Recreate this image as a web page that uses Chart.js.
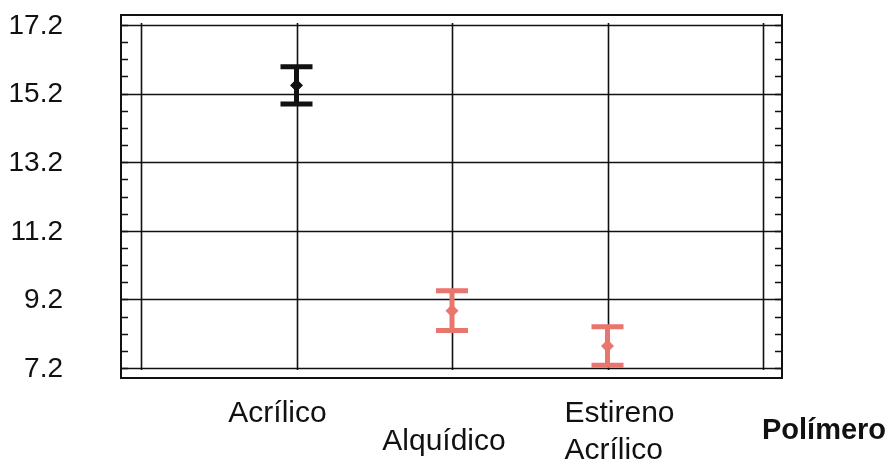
<!DOCTYPE html>
<html>
<head>
<meta charset="utf-8">
<script src="https://cdn.jsdelivr.net/npm/chart.js@4/dist/chart.umd.min.js"></script>
<style>
  html, body { margin: 0; padding: 0; background: #fff; }
  #wrap { width: 896px; height: 467px; }
</style>
</head>
<body>
<div id="wrap"><canvas id="c" width="896" height="467"></canvas></div>
<script>
// Polymer categories and measured values (mean ± error)
const categories = ['Acrílico', 'Alquídico', 'Estireno\nAcrílico'];
const means = [15.44, 8.87, 7.84];
const errors = [0.54, 0.58, 0.56];
const yTicks = [7.2, 9.2, 11.2, 13.2, 15.2, 17.2];
const axisTitle = 'Polímero';

const barColors = ['#111111', '#e8766c', '#e8766c'];

const points = categories.map((c, i) => ({ x: i + 1, y: means[i] }));

const drawPlugin = {
  id: 'frameAndBars',
  beforeDatasetsDraw(chart) {
    const ctx = chart.ctx;
    const xs = chart.scales.x, ys = chart.scales.y;
    const area = chart.chartArea;
    const frame = { l: 121, r: 782, t: 15, b: 378 };
    ctx.save();

    // outer frame
    ctx.strokeStyle = '#111';
    ctx.lineWidth = 2;
    ctx.strokeRect(frame.l, frame.t, frame.r - frame.l, frame.b - frame.t);

    // horizontal grid
    ctx.lineWidth = 1.6;
    yTicks.forEach(v => {
      const y = Math.round(ys.getPixelForValue(v)) + 0.5;
      ctx.beginPath();
      ctx.moveTo(frame.l, y);
      ctx.lineTo(frame.r, y);
      ctx.stroke();
    });

    // vertical grid at every category boundary/center
    for (let k = 0; k <= 4; k++) {
      const x = Math.round(xs.getPixelForValue(k)) + 0.5;
      ctx.beginPath();
      ctx.moveTo(x, area.top - 2);
      ctx.lineTo(x, area.bottom + 2);
      ctx.stroke();
    }

    // minor ticks on left and right frame edges
    ctx.lineWidth = 1.5;
    for (let v = yTicks[0]; v <= yTicks[yTicks.length - 1] + 1e-6; v += 0.5) {
      const y = Math.round(ys.getPixelForValue(v)) + 0.5;
      ctx.beginPath();
      ctx.moveTo(frame.l, y); ctx.lineTo(frame.l + 7, y);
      ctx.moveTo(frame.r, y); ctx.lineTo(frame.r - 7, y);
      ctx.stroke();
    }

    // y tick labels
    ctx.fillStyle = '#111';
    ctx.font = '28px "Liberation Sans", Arial, sans-serif';
    ctx.textAlign = 'right';
    ctx.textBaseline = 'middle';
    yTicks.forEach(v => {
      ctx.fillText(v.toFixed(1), 63, ys.getPixelForValue(v) + 1);
    });

    // category labels, staggered below the plot
    ctx.font = '30px "Liberation Sans", Arial, sans-serif';
    ctx.textBaseline = 'alphabetic';
    const labelPos = [
      { dx: -19, y: 422, align: 'center' },
      { dx: -8, y: 450, align: 'center' },
      { dx: -43, y: 422, align: 'left' }
    ];
    categories.forEach((c, i) => {
      const p = labelPos[i];
      const x = xs.getPixelForValue(i + 1) + p.dx;
      ctx.textAlign = p.align;
      c.split('\n').forEach((line, j) => {
        ctx.fillText(line, x, p.y + j * 37);
      });
    });

    // axis title
    ctx.font = 'bold 29px "Liberation Sans", Arial, sans-serif';
    ctx.textAlign = 'left';
    ctx.fillText(axisTitle, 762, 439);

    // error bars
    categories.forEach((c, i) => {
      const x = xs.getPixelForValue(i + 1);
      const yHi = ys.getPixelForValue(means[i] + errors[i]);
      const yLo = ys.getPixelForValue(means[i] - errors[i]);
      ctx.strokeStyle = barColors[i];
      ctx.lineWidth = 5;
      ctx.beginPath();
      ctx.moveTo(x, yHi); ctx.lineTo(x, yLo);
      ctx.stroke();
      ctx.lineWidth = 5;
      ctx.beginPath();
      ctx.moveTo(x - 16, yHi); ctx.lineTo(x + 16, yHi);
      ctx.moveTo(x - 16, yLo); ctx.lineTo(x + 16, yLo);
      ctx.stroke();
    });

    ctx.restore();
  }
};

new Chart(document.getElementById('c'), {
  type: 'scatter',
  data: {
    datasets: [{
      data: points,
      pointStyle: 'rectRot',
      pointRadius: 6,
      pointBackgroundColor: barColors,
      pointBorderColor: barColors,
      pointBorderWidth: 1
    }]
  },
  options: {
    responsive: false,
    animation: false,
    devicePixelRatio: 1,
    layout: { padding: { left: 141, right: 133, top: 25, bottom: 99 } },
    plugins: { legend: { display: false }, tooltip: { enabled: false } },
    scales: {
      x: { type: 'linear', min: 0, max: 4, display: false },
      y: { type: 'linear', min: 7.2, max: 17.2, display: false }
    }
  },
  plugins: [drawPlugin]
});
</script>
</body>
</html>
